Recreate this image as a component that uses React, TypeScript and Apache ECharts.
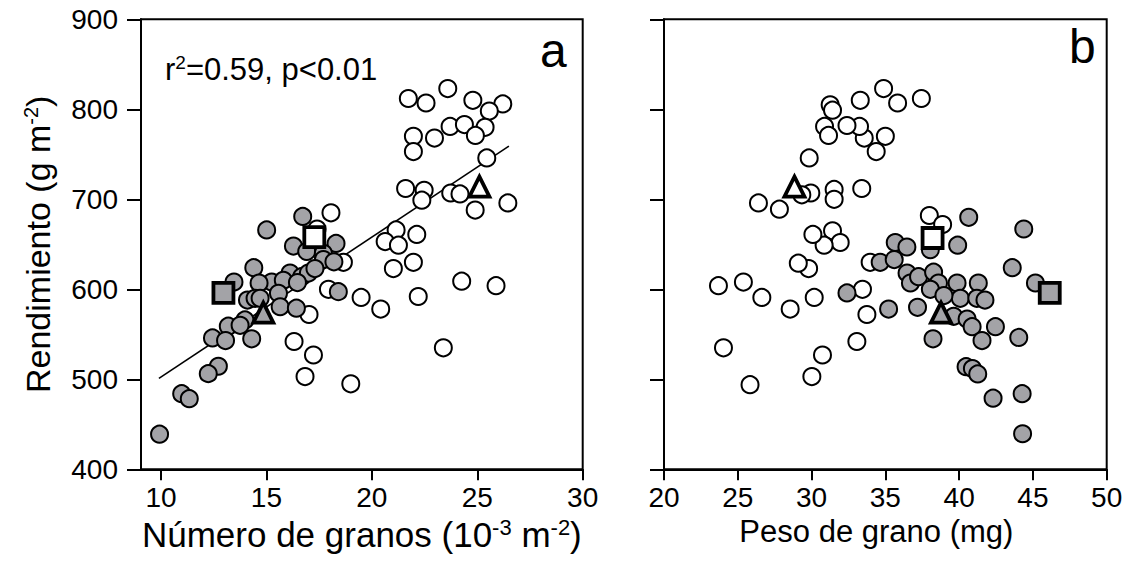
import React, { useEffect, useRef } from "react";
import * as echarts from "echarts";

// Panel a: grain number (10^3 m^-2) vs yield (g m^-2)
const aOpenN = [21.73, 22.57, 23.6, 24.79, 26.21, 25.57, 21.97, 21.97, 22.97, 23.71, 24.39, 25.37, 24.91, 25.45, 21.6, 22.48, 22.37, 23.74, 24.18, 24.9, 26.45, 21.15, 20.63, 21.26, 22.13, 21.02, 21.97, 24.26, 25.89, 22.2, 20.42, 23.39, 19.49, 18.65, 17.94, 17.02, 16.31, 17.23, 16.83, 19.0, 18.06, 17.4];
const aOpenY = [812, 807, 823, 810, 806, 798, 770, 753, 768, 781, 783, 780, 771, 746, 712, 710, 699, 707, 706, 688, 696, 666, 653, 649, 661, 623, 630, 609, 604, 592, 578, 535, 591, 630, 600, 572, 542, 527, 503, 495, 685, 667];
const aGrayN = [16.72, 15.01, 16.28, 18.3, 16.91, 17.7, 17.7, 18.2, 14.4, 13.46, 16.12, 16.67, 16.99, 17.3, 15.25, 14.65, 15.8, 16.47, 14.1, 14.46, 14.7, 15.57, 15.65, 16.42, 18.41, 13.98, 13.19, 13.75, 12.44, 13.06, 14.3, 12.72, 12.24, 10.98, 11.34, 9.93];
const aGrayY = [681, 666, 648, 651, 642, 640, 633, 630.5, 624, 608, 618, 614, 618, 623, 608, 607, 610, 607.5, 588, 590, 590, 595.5, 580.6, 579, 597.4, 566, 559, 560, 546, 543, 545, 514.5, 506.3, 484, 478.5, 439];
const aSquareGray = [12.96, 596];
const aSquareOpen = [17.27, 658];
const aTriangleGray = [14.85, 574];
const aTriangleOpen = [25.1, 714];
const regN = [9.9, 26.5];
const regY = [501, 759];

// Panel b: grain weight (mg) vs yield (g m^-2)
const bOpenW = [37.44, 35.83, 34.88, 33.3, 31.26, 31.42, 35.0, 34.38, 33.57, 33.25, 32.4, 30.88, 31.15, 29.84, 33.4, 31.53, 31.53, 29.95, 29.34, 27.82, 26.4, 31.42, 31.94, 30.85, 30.09, 29.8, 29.1, 25.38, 23.69, 26.63, 28.55, 24.03, 30.18, 33.97, 33.45, 33.75, 33.07, 30.74, 30.02, 25.83, 37.98, 38.88];
const bOpenY = [812, 807, 823, 810, 805, 799, 770, 753, 768, 781, 782, 781, 771, 746, 712, 711, 700, 707, 705, 689, 696, 665, 652, 649, 661, 623, 629, 608, 604, 591, 578, 535, 591, 630, 600, 572, 542, 527, 503, 494, 682, 672];
const bGrayW = [40.65, 44.38, 39.9, 35.67, 36.46, 38.05, 34.65, 35.6, 43.6, 45.17, 36.47, 36.7, 37.25, 38.27, 38.6, 38.05, 39.86, 41.3, 40.08, 41.2, 41.75, 38.97, 37.18, 35.22, 32.4, 39.63, 40.54, 40.88, 42.46, 41.55, 38.23, 44.04, 40.47, 40.9, 41.26, 42.3, 44.27, 44.3];
const bGrayY = [680, 667, 649, 652, 647, 644, 630, 633, 624, 607, 618, 607, 614, 619, 607, 600, 607, 607, 590, 590, 588, 593, 580, 578, 596, 570, 567, 558.5, 558.5, 543, 545, 546.5, 514, 512, 506, 479, 484, 439.5];
const bSquareGray = [46.14, 596];
const bSquareOpen = [38.2, 657];
const bTriangleGray = [38.77, 574];
const bTriangleOpen = [28.84, 714];

const xTicksA = [10, 15, 20, 25, 30];
const xTicksB = [20, 25, 30, 35, 40, 45, 50];

const FONT = "'Liberation Sans', Arial, sans-serif";
const GRAY = "#a3a3a7";

function zip(xs: number[], ys: number[]) {
  return xs.map((x, i) => [x, ys[i]]);
}

function scatter(idx: number, data: number[][], symbol: string, size: number, fill: string, bw: number, z: number) {
  return {
    type: "scatter",
    xAxisIndex: idx,
    yAxisIndex: idx,
    data,
    symbol,
    symbolSize: size,
    z,
    itemStyle: { color: fill, borderColor: "#000", borderWidth: bw, opacity: 1 },
    emphasis: { disabled: true },
    silent: true,
  };
}

function nameStyle(size: number, sup: number, raise: number, padding: number[]) {
  return {
    fontSize: size,
    color: "#000",
    fontFamily: FONT,
    padding,
    rich: {
      m: { fontSize: size, fontFamily: FONT, color: "#000" },
      s: { fontSize: sup, fontFamily: FONT, color: "#000", padding: [0, 0, raise, 0] },
    },
  };
}

function xAxisCfg(idx: number, min: number, max: number, ticks: number[], name: string, ns: any) {
  return {
    type: "value",
    gridIndex: idx,
    min,
    max,
    axisLine: { show: true, onZero: false, lineStyle: { color: "#000", width: 2 } },
    axisTick: { show: true, length: 11, customValues: ticks, lineStyle: { color: "#000", width: 2 } },
    axisLabel: { customValues: ticks, fontSize: 28, color: "#000", fontFamily: FONT, margin: 14 },
    splitLine: { show: false },
    name,
    nameLocation: "middle",
    nameGap: 47,
    nameTextStyle: ns,
  };
}

function yAxisCfg(idx: number, showLabel: boolean, name: string) {
  return {
    type: "value",
    gridIndex: idx,
    min: 400,
    max: 900,
    interval: 100,
    axisLine: { show: true, onZero: false, lineStyle: { color: "#000", width: 2 } },
    axisTick: { show: true, length: 14, lineStyle: { color: "#000", width: 2 } },
    axisLabel: { show: showLabel, fontSize: 28, color: "#000", fontFamily: FONT, margin: 23 },
    splitLine: { show: false },
    name,
    nameLocation: "middle",
    nameGap: 86,
    nameTextStyle: nameStyle(34, 20, 14, [0, 0, 0, 0]),
  };
}

export default function App() {
  const ref = useRef<HTMLDivElement>(null);
  useEffect(() => {
    document.body.style.margin = "0";
    const chart = echarts.init(ref.current!, null, { renderer: "svg" });
    const option: any = {
      animation: false,
      backgroundColor: "#fff",
      grid: [
        { left: 141, top: 19.3, width: 441.7, height: 450, show: true, borderColor: "#000", borderWidth: 2, backgroundColor: "transparent" },
        { left: 664, top: 19.3, width: 442.7, height: 450, show: true, borderColor: "#000", borderWidth: 2, backgroundColor: "transparent" },
      ],
      xAxis: [
        xAxisCfg(0, 9.05, 30, xTicksA, "{m|Número de granos (10}{s|-3}{m| m}{s|-2}{m|)}", nameStyle(35, 22, 15, [0, 0, 0, 0])),
        xAxisCfg(1, 20, 50, xTicksB, "{m|Peso de grano (mg)}", nameStyle(31, 19, 13, [0, 18, 0, 0])),
      ],
      yAxis: [
        yAxisCfg(0, true, "{m|Rendimiento (g m}{s|-2}{m|)}"),
        yAxisCfg(1, false, ""),
      ],
      series: [
        {
          type: "line",
          xAxisIndex: 0,
          yAxisIndex: 0,
          data: zip(regN, regY),
          symbol: "none",
          lineStyle: { color: "#000", width: 1.6 },
          z: 1,
          silent: true,
        },
        scatter(0, zip(aOpenN, aOpenY), "circle", 17, "#fff", 2, 2),
        scatter(0, zip(aGrayN, aGrayY), "circle", 17, GRAY, 2, 3),
        scatter(0, [aSquareGray], "rect", 20, GRAY, 3.8, 4),
        scatter(0, [aSquareOpen], "rect", 20, "#fff", 3.8, 4),
        scatter(0, [aTriangleGray], "triangle", 20, GRAY, 3.8, 4),
        scatter(0, [aTriangleOpen], "triangle", 20, "#fff", 3.8, 4),
        scatter(1, zip(bOpenW, bOpenY), "circle", 17, "#fff", 2, 2),
        scatter(1, zip(bGrayW, bGrayY), "circle", 17, GRAY, 2, 3),
        scatter(1, [bSquareGray], "rect", 20, GRAY, 3.8, 4),
        scatter(1, [bSquareOpen], "rect", 20, "#fff", 3.8, 4),
        scatter(1, [bTriangleGray], "triangle", 20, GRAY, 3.8, 4),
        scatter(1, [bTriangleOpen], "triangle", 20, "#fff", 3.8, 4),
      ],
      graphic: [
        {
          type: "text",
          x: 165,
          y: 53,
          silent: true,
          style: {
            text: "{m|r}{s|2}{m|=0.59, p<0.01}",
            fill: "#000",
            rich: {
              m: { fontSize: 31, fontFamily: FONT, fill: "#000" },
              s: { fontSize: 19, fontFamily: FONT, fill: "#000", padding: [0, 0, 13, 0] },
            },
          },
        },
        { type: "text", x: 540, y: 26, silent: true, style: { text: "a", fontSize: 48, fontFamily: FONT, fill: "#000" } },
        { type: "text", x: 1069, y: 22, silent: true, style: { text: "b", fontSize: 48, fontFamily: FONT, fill: "#000" } },
      ],
    };
    chart.setOption(option);
    return () => chart.dispose();
  }, []);
  return <div ref={ref} style={{ width: 1135, height: 574 }} />;
}
